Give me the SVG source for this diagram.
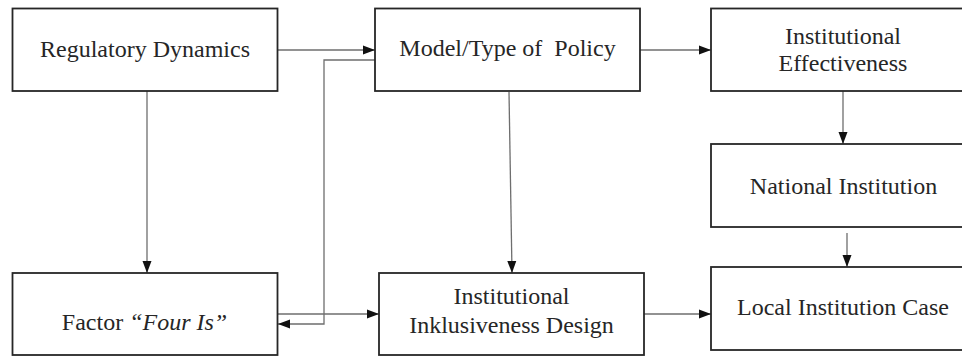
<svg xmlns="http://www.w3.org/2000/svg" width="962" height="357" viewBox="0 0 962 357">
<style>
.box{fill:#fff;stroke:#262626;stroke-width:1.8}
.t{font-family:"Liberation Serif","Times New Roman",serif;font-size:24px;fill:#262626;text-anchor:middle;white-space:pre}
.c{fill:none;stroke:#6e6e6e;stroke-width:1.3}
</style>
<defs>
<marker id="ah" markerWidth="12" markerHeight="10" refX="12" refY="5" orient="auto" markerUnits="userSpaceOnUse">
<path d="M0,0.5 L12,5 L0,9.5 Z" fill="#111"/>
</marker>
</defs>
<rect width="962" height="357" fill="#fff"/>
<g id="connectors">
<line class="c" x1="277" y1="50" x2="375" y2="50" marker-end="url(#ah)"/>
<polyline class="c" points="375,60 324,60 324,324 278,324" marker-end="url(#ah)"/>
<line class="c" x1="277" y1="314" x2="379" y2="314" marker-end="url(#ah)"/>
<line class="c" x1="147" y1="91" x2="147" y2="273" marker-end="url(#ah)"/>
<line class="c" x1="509" y1="92" x2="512" y2="273" marker-end="url(#ah)"/>
<line class="c" x1="640" y1="50" x2="711" y2="50" marker-end="url(#ah)"/>
<line class="c" x1="843" y1="91" x2="843" y2="144" marker-end="url(#ah)"/>
<line class="c" x1="847" y1="233" x2="847" y2="267" marker-end="url(#ah)"/>
<line class="c" x1="644" y1="314" x2="711" y2="314" marker-end="url(#ah)"/>
</g>
<g id="regulatory-dynamics">
<rect class="box" x="12.5" y="8.5" width="265" height="82.5"/>
<text class="t" x="145" y="57">Regulatory Dynamics</text>
</g>
<g id="model-type-policy">
<rect class="box" x="375" y="8.5" width="265" height="82.5"/>
<text class="t" x="507.5" y="56">Model/Type of  Policy</text>
</g>
<g id="institutional-effectiveness">
<rect class="box" x="711" y="8.5" width="265" height="82.5"/>
<text class="t" x="843" y="44">Institutional</text>
<text class="t" x="843" y="71">Effectiveness</text>
</g>
<g id="national-institution">
<rect class="box" x="711" y="144" width="265" height="83"/>
<text class="t" x="843.5" y="194">National Institution</text>
</g>
<g id="local-institution-case">
<rect class="box" x="711" y="267" width="265" height="83"/>
<text class="t" x="843" y="315">Local Institution Case</text>
</g>
<g id="factor-four-is">
<rect class="box" x="12.5" y="273" width="265" height="82"/>
<text class="t" x="144.5" y="330">Factor <tspan font-style="italic">“Four Is”</tspan></text>
</g>
<g id="institutional-inklusiveness-design">
<rect class="box" x="379" y="273" width="265" height="82"/>
<text class="t" x="511.5" y="304">Institutional</text>
<text class="t" x="511.5" y="333">Inklusiveness Design</text>
</g>
</svg>
